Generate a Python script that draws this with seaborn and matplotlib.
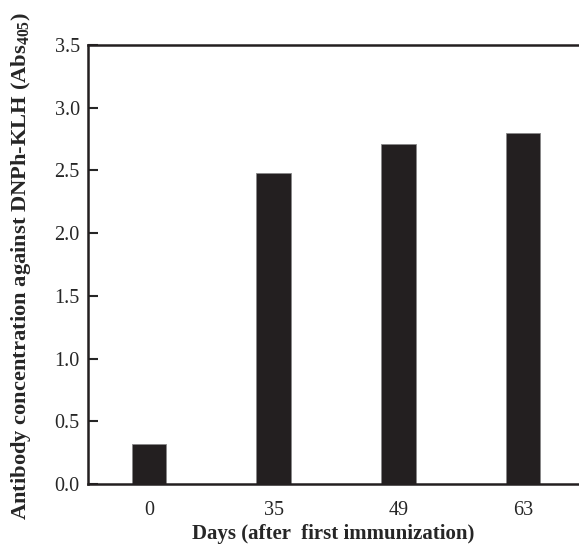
import pandas as pd
import numpy as np
import matplotlib
matplotlib.use('Agg')
import matplotlib.pyplot as plt
import seaborn as sns

# Data
days = ['0', '35', '49', '63']
absorbance = [0.32, 2.48, 2.71, 2.80]

df = pd.DataFrame({'day': days, 'abs': absorbance})

sns.set_style('ticks')
plt.rcParams['font.family'] = ['Liberation Serif', 'DejaVu Serif']
plt.rcParams['mathtext.fontset'] = 'custom'
plt.rcParams['mathtext.rm'] = 'Liberation Serif'
plt.rcParams['mathtext.bf'] = 'Liberation Serif:bold'

fig = plt.figure(figsize=(5.79, 5.47), dpi=100)
ax = fig.add_axes([0.152, 0.115, 0.848, 0.803])

sns.barplot(data=df, x='day', y='abs', color='#231f20', width=0.277,
            edgecolor='#888888', linewidth=0.6, saturation=1, ax=ax)

ax.set_xlim(-0.49, 3.45)
ax.set_ylim(0, 3.5)
ax.set_yticks(np.arange(0, 3.51, 0.5))
ax.set_yticklabels(['%.1f' % v for v in np.arange(0, 3.51, 0.5)])

for side in ['left', 'bottom', 'top']:
    ax.spines[side].set_linewidth(1.8)
    ax.spines[side].set_color('#231f20')
ax.spines['right'].set_visible(False)

ax.tick_params(axis='y', direction='in', length=7, width=1.5, labelsize=14.5, pad=6)
ax.tick_params(axis='x', length=0, labelsize=14.5, pad=12)

ax.set_xlabel('Days (after  first immunization)', fontsize=15, fontweight='bold', labelpad=3)
ax.set_ylabel(r'Antibody concentration against DNPh-KLH (Abs$_{\mathbf{405}}$)',
              fontsize=16.2, fontweight='bold')
ax.yaxis.set_label_coords(-0.112, 0.497)

fig.savefig('out.png', dpi=100)
